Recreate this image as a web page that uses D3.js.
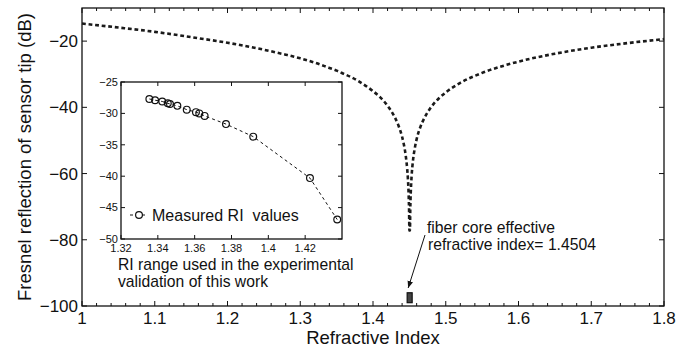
<!DOCTYPE html>
<html>
<head>
<meta charset="utf-8">
<script src="https://cdn.jsdelivr.net/npm/d3@7"></script>
<style>
  body { margin: 0; background: #fff; }
  svg { display: block; font-family: "Liberation Sans", Arial, sans-serif; }
</style>
</head>
<body>
<div id="chart"></div>
<script>
// main curve: Fresnel reflection (dB)
const riIndex = [1.00, 1.05, 1.10, 1.15, 1.20, 1.25, 1.28, 1.30, 1.32, 1.34, 1.35, 1.36,
  1.37, 1.38, 1.39, 1.40, 1.41, 1.42, 1.425, 1.43, 1.435, 1.44, 1.4425, 1.445, 1.446,
  1.447, 1.448, 1.4488, 1.4492, 1.4496, 1.4500, 1.4508, 1.4512, 1.4516, 1.452, 1.453,
  1.455, 1.4575, 1.46, 1.465, 1.47, 1.48, 1.49, 1.50, 1.52, 1.55, 1.58, 1.60, 1.65,
  1.70, 1.75, 1.80];
const riDb = [-14.7, -15.9, -17.2, -18.8, -20.5, -22.6, -24.1, -25.2, -26.5, -28.1, -28.9, -29.9,
  -30.9, -32.1, -33.5, -35.1, -37.0, -39.5, -41.1, -43.0, -45.5, -48.9, -51.3, -54.6, -56.4,
  -58.6, -61.6, -65.2, -67.7, -71.2, -77.2, -77.2, -71.2, -67.7, -65.2, -61.0,
  -56.0, -52.3, -49.6, -46.0, -43.5, -39.9, -37.4, -35.5, -32.6, -29.6, -27.4, -26.2, -23.8,
  -22.0, -20.6, -19.4];

// inset: measured RI values
const measRi = [1.3354, 1.3385, 1.3424, 1.3454, 1.3466, 1.3506, 1.3557, 1.3607, 1.3625,
  1.3654, 1.3770, 1.3918, 1.4226, 1.4374];
const measDb = [-27.7, -27.9, -28.1, -28.4, -28.5, -28.8, -29.4, -29.8, -30.0,
  -30.4, -31.7, -33.7, -40.3, -46.9];

const xTicks = [1, 1.1, 1.2, 1.3, 1.4, 1.5, 1.6, 1.7, 1.8];
const xTickLabels = ["1", "1.1", "1.2", "1.3", "1.4", "1.5", "1.6", "1.7", "1.8"];
const yTicks = [-100, -80, -60, -40, -20];
const yTickLabels = ["\u2212100", "\u221280", "\u221260", "\u221240", "\u221220"];
const insetXTicks = [1.32, 1.34, 1.36, 1.38, 1.4, 1.42];
const insetXTickLabels = ["1.32", "1.34", "1.36", "1.38", "1.4", "1.42"];
const insetYTicks = [-50, -45, -40, -35, -30, -25];
const insetYTickLabels = ["\u221250", "\u221245", "\u221240", "\u221235", "\u221230", "\u221225"];
const coreIndex = 1.4504;

const width = 689;
const height = 348;
const margin = { left: 82, right: 25, top: 8, bottom: 42 };
const inset = { left: 121, top: 82, right: 342, bottom: 239 };
const ink = "#111";

const svg = d3.select("#chart").append("svg")
  .attr("width", width)
  .attr("height", height);

const x = d3.scaleLinear().domain([1, 1.8]).range([margin.left, width - margin.right]);
const y = d3.scaleLinear().domain([-100, -10]).range([height - margin.bottom, margin.top]);

// axes, MATLAB style: box with inward ticks on all four sides
const boxAxes = (g, xs, ys, opts) => {
  const [x0, x1] = xs.range();
  const [y0, y1] = ys.range();
  g.append("rect")
    .attr("x", x0).attr("y", y1)
    .attr("width", x1 - x0).attr("height", y0 - y1)
    .attr("fill", opts.fill || "none")
    .attr("stroke", ink).attr("stroke-width", 1.3);

  const ticks = g.append("g").attr("stroke", ink).attr("stroke-width", 1);
  opts.xMinor.forEach((v) => {
    const len = opts.xTicks.some((t) => Math.abs(t - v) < 1e-9) ? opts.major : opts.minor;
    ticks.append("line").attr("x1", xs(v)).attr("x2", xs(v)).attr("y1", y0).attr("y2", y0 - len);
    ticks.append("line").attr("x1", xs(v)).attr("x2", xs(v)).attr("y1", y1).attr("y2", y1 + len);
  });
  opts.yTicks.forEach((v) => {
    ticks.append("line").attr("x1", x0).attr("x2", x0 + opts.major).attr("y1", ys(v)).attr("y2", ys(v));
    ticks.append("line").attr("x1", x1).attr("x2", x1 - opts.major).attr("y1", ys(v)).attr("y2", ys(v));
  });

  g.append("g").selectAll("text")
    .data(opts.xTicks)
    .join("text")
    .attr("x", (d) => xs(d))
    .attr("y", y0 + opts.xLabelDy)
    .attr("text-anchor", "middle")
    .attr("font-size", opts.fontSize)
    .attr("fill", ink)
    .text((d, i) => opts.xLabels[i]);

  g.append("g").selectAll("text")
    .data(opts.yTicks)
    .join("text")
    .attr("x", x0 - opts.yLabelDx)
    .attr("y", (d) => ys(d))
    .attr("dy", "0.35em")
    .attr("text-anchor", "end")
    .attr("font-size", opts.fontSize)
    .attr("fill", ink)
    .text((d, i) => opts.yLabels[i]);
};

boxAxes(svg.append("g"), x, y, {
  xTicks: xTicks, xLabels: xTickLabels, xMinor: x.ticks(40),
  yTicks: yTicks, yLabels: yTickLabels,
  major: 5, minor: 3, fontSize: 17, xLabelDy: 18, yLabelDx: 4,
});

// main dotted curve
const line = d3.line()
  .x((d, i) => x(riIndex[i]))
  .y((d) => y(d))
  .curve(d3.curveMonotoneX);

svg.append("path")
  .datum(riDb)
  .attr("d", line)
  .attr("fill", "none")
  .attr("stroke", "#1a1a1a")
  .attr("stroke-width", 2.6)
  .attr("stroke-dasharray", "3.8,2.8");

// small marker at the core index
svg.append("rect")
  .attr("x", x(coreIndex) - 2.5)
  .attr("y", y(-96))
  .attr("width", 5)
  .attr("height", y(-99) - y(-96))
  .attr("fill", "#444")
  .attr("stroke", ink)
  .attr("stroke-width", 1.2);

// axis labels
svg.append("text")
  .attr("x", (margin.left + width - margin.right) / 2)
  .attr("y", 344)
  .attr("text-anchor", "middle")
  .attr("font-size", 18.5)
  .attr("fill", ink)
  .text("Refractive Index");

svg.append("text")
  .attr("transform", `translate(31, ${(margin.top + height - margin.bottom) / 2}) rotate(-90)`)
  .attr("text-anchor", "middle")
  .attr("font-size", 18.5)
  .attr("fill", ink)
  .text("Fresnel reflection of sensor tip (dB)");

// annotation with arrow
svg.append("defs").append("marker")
  .attr("id", "arrow")
  .attr("viewBox", "0 0 10 10")
  .attr("refX", 10).attr("refY", 5)
  .attr("markerWidth", 7).attr("markerHeight", 7)
  .attr("markerUnits", "userSpaceOnUse")
  .attr("orient", "auto")
  .append("path")
  .attr("d", "M0,1L10,5L0,9Z")
  .attr("fill", ink);

svg.append("line")
  .attr("x1", 425).attr("y1", 235)
  .attr("x2", x(coreIndex) - 1.5).attr("y2", 288)
  .attr("stroke", ink).attr("stroke-width", 1)
  .attr("marker-end", "url(#arrow)");

svg.append("text")
  .attr("x", 427).attr("y", 233)
  .attr("font-size", 15.7).attr("fill", ink)
  .text("fiber core effective");
svg.append("text")
  .attr("x", 428).attr("y", 250)
  .attr("font-size", 15.7).attr("fill", ink)
  .text("refractive index= 1.4504");

// inset
const ix = d3.scaleLinear().domain([1.32, 1.44]).range([inset.left, inset.right]);
const iy = d3.scaleLinear().domain([-50, -25]).range([inset.bottom, inset.top]);

boxAxes(svg.append("g"), ix, iy, {
  xTicks: insetXTicks, xLabels: insetXTickLabels, xMinor: insetXTicks,
  yTicks: insetYTicks, yLabels: insetYTickLabels,
  major: 4, minor: 4, fontSize: 11, xLabelDy: 13, yLabelDx: 3, fill: "#fff",
});

const insetLine = d3.line()
  .x((d, i) => ix(measRi[i]))
  .y((d) => iy(d));

svg.append("path")
  .datum(measDb)
  .attr("d", insetLine)
  .attr("fill", "none")
  .attr("stroke", ink)
  .attr("stroke-width", 1)
  .attr("stroke-dasharray", "3,3");

svg.append("g").selectAll("circle")
  .data(measDb)
  .join("circle")
  .attr("cx", (d, i) => ix(measRi[i]))
  .attr("cy", (d) => iy(d))
  .attr("r", 3.4)
  .attr("fill", "none")
  .attr("stroke", ink)
  .attr("stroke-width", 1.2);

// legend
const legend = svg.append("g");
legend.append("line")
  .attr("x1", 130).attr("x2", 148).attr("y1", 215).attr("y2", 215)
  .attr("stroke", ink).attr("stroke-dasharray", "3,3");
legend.append("circle")
  .attr("cx", 139).attr("cy", 215).attr("r", 3.4)
  .attr("fill", "#fff").attr("stroke", ink).attr("stroke-width", 1.2);
legend.append("text")
  .attr("x", 152).attr("y", 221)
  .attr("font-size", 16).attr("fill", ink)
  .attr("xml:space", "preserve")
  .style("white-space", "pre")
  .text("Measured RI  values");

svg.append("text")
  .attr("x", 118).attr("y", 270)
  .attr("font-size", 15.7).attr("fill", ink)
  .text("RI range used in the experimental");
svg.append("text")
  .attr("x", 118).attr("y", 287)
  .attr("font-size", 15.7).attr("fill", ink)
  .text("validation of this work");
</script>
</body>
</html>
